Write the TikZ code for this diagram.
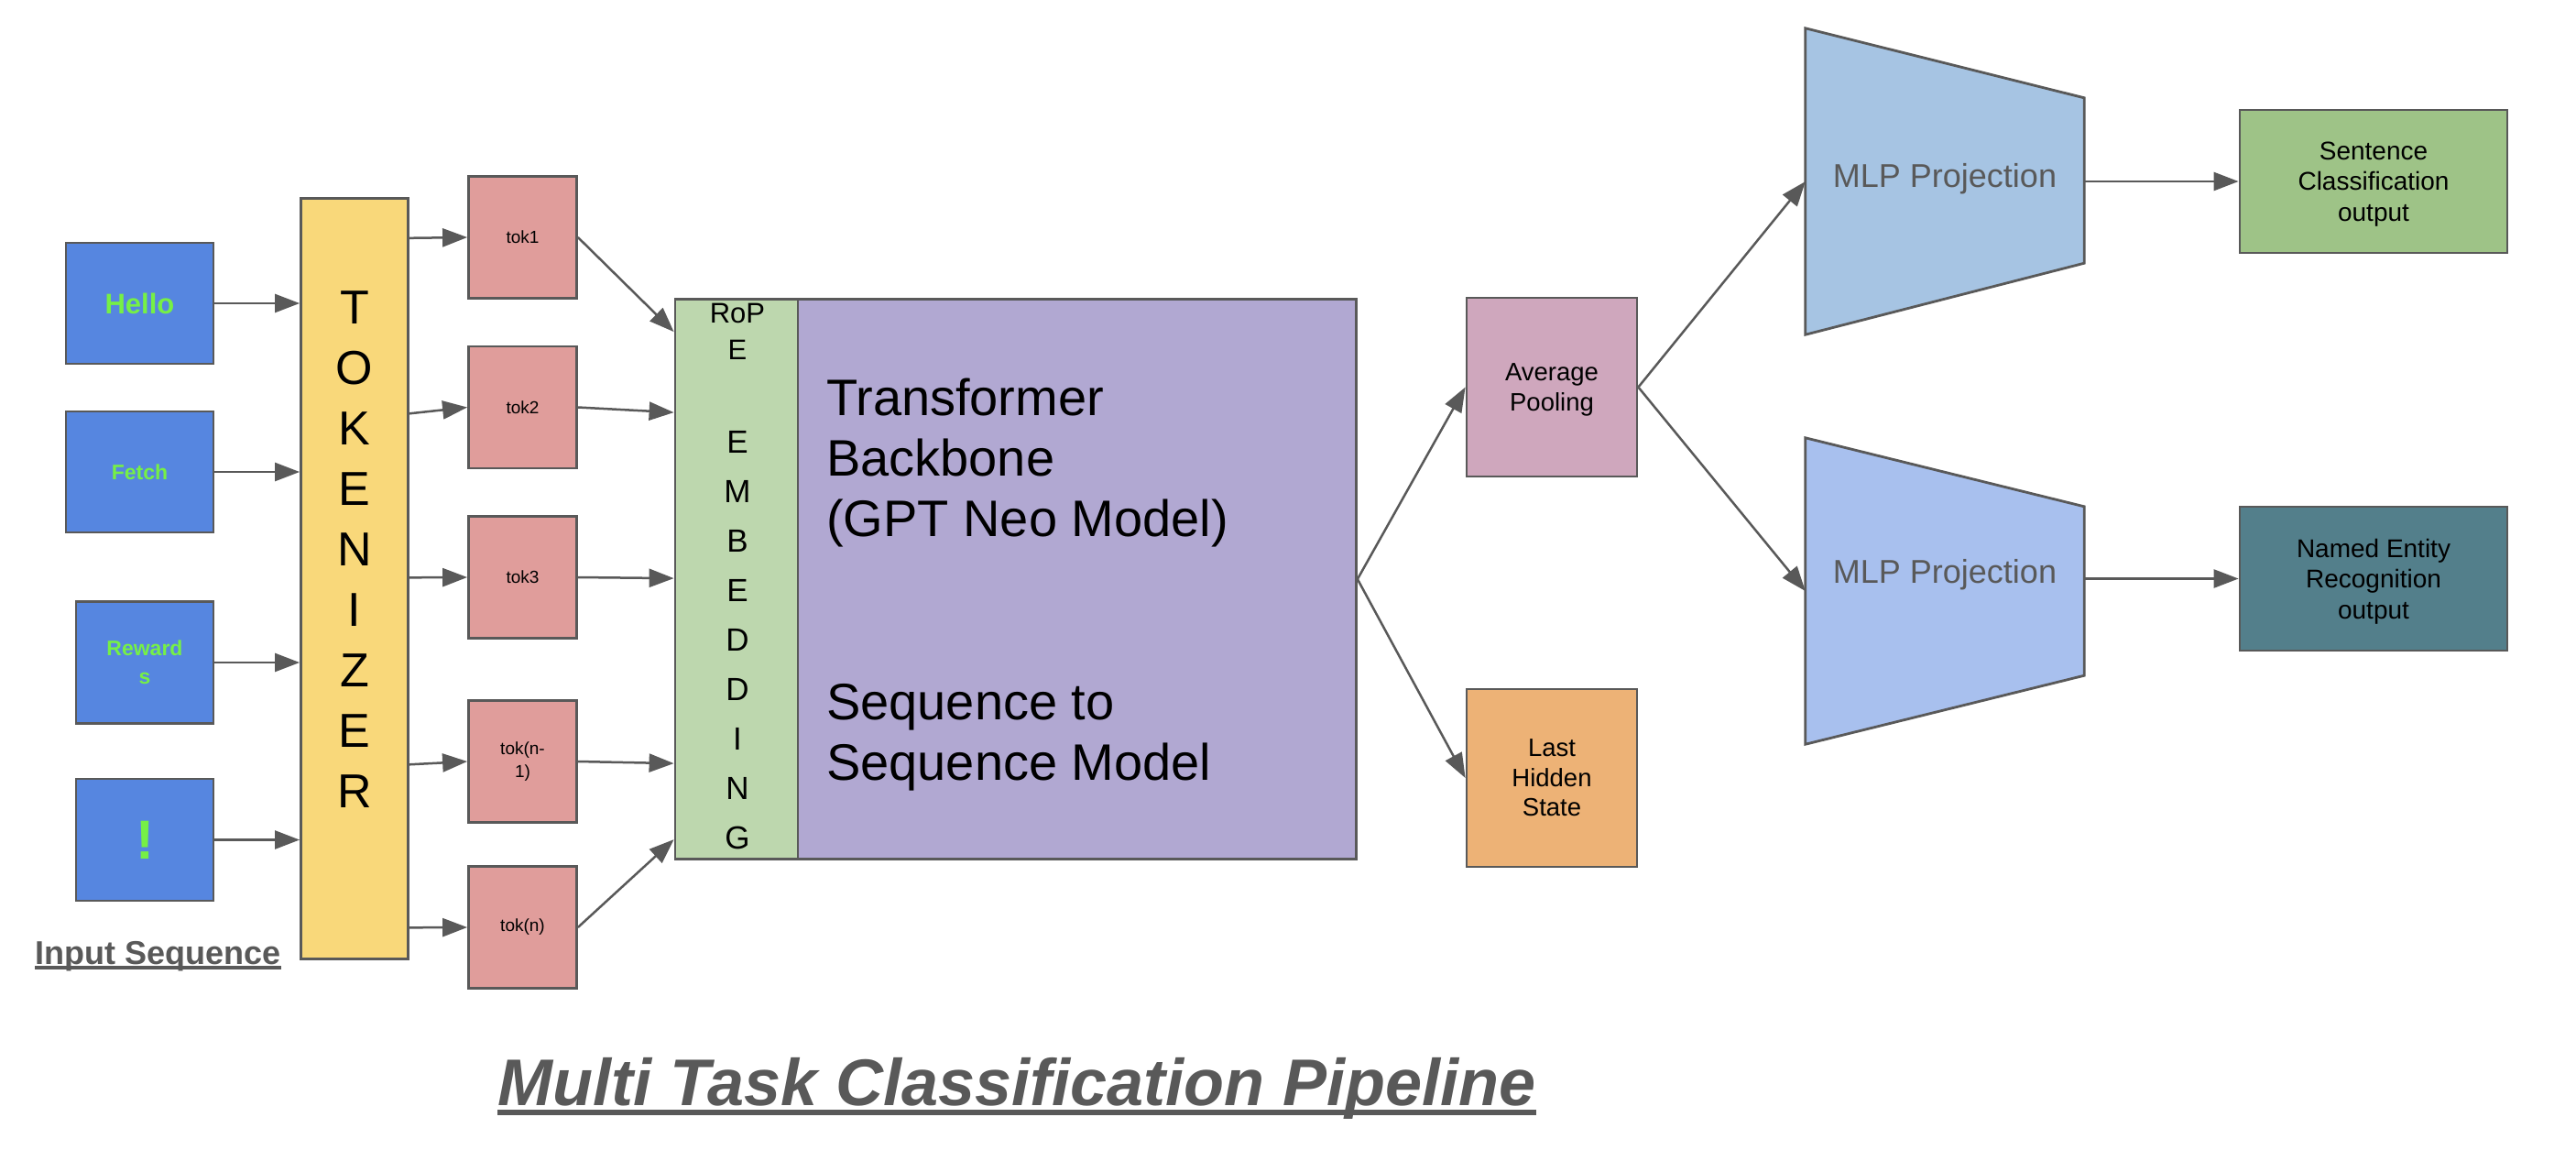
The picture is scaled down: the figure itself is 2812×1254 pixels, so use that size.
\documentclass[tikz,border=0pt]{standalone}
\usepackage{fontspec}
\setmainfont{Liberation Sans}
\usetikzlibrary{arrows.meta,calc,backgrounds}

\definecolor{edge}{HTML}{595959}
\definecolor{inblue}{HTML}{5686E0}
\definecolor{wordgreen}{HTML}{76F046}
\definecolor{tokyellow}{HTML}{F9D87A}
\definecolor{tokpink}{HTML}{E09D9B}
\definecolor{embgreen}{HTML}{BDD7AE}
\definecolor{transpurple}{HTML}{B1A8D2}
\definecolor{avgpink}{HTML}{CFA7BD}
\definecolor{lastorange}{HTML}{EDB276}
\definecolor{mlpblueA}{HTML}{A6C4E3}
\definecolor{mlpblueB}{HTML}{A8C0EE}
\definecolor{sentgreen}{HTML}{9EC387}
\definecolor{nerteal}{HTML}{537F8B}

\begin{document}
\begin{tikzpicture}[x=1pt,y=-1pt,
  box/.style={draw=edge, line width=2.8pt, inner sep=0pt, align=center},
  inbox/.style={box, fill=inblue, text=wordgreen, minimum height=132pt},
  tokbox/.style={box, fill=tokpink, minimum width=118pt, minimum height=133pt,
    font=\fontsize{19}{25}\selectfont},
  arr/.style={draw=edge, line width=2.5pt, -{Triangle[length=27pt,width=20pt]}},
  mlpshape/.style={draw=edge, line width=2.8pt, line join=miter},
  mlptext/.style={inner sep=0pt, text=edge, font=\fontsize{36}{43}\selectfont},
  plain/.style={inner sep=0pt, align=center},
]
% canvas
\begin{scope}[on background layer]
  \fill[white] (0,0) rectangle (2812,1254);
\end{scope}
\useasboundingbox (0,0) rectangle (2812,1254);

% input words
\node[inbox, minimum width=161pt, font={\bfseries\fontsize{31}{37}\selectfont}] (hello) at (152.5,331) {Hello};
\node[inbox, minimum width=161pt, font={\bfseries\fontsize{23}{30}\selectfont}] (fetch) at (152.5,515) {Fetch};
\node[inbox, minimum width=150pt, minimum height=133pt, font={\bfseries\fontsize{23}{30.5}\selectfont}] (rewards) at (158,723) {Reward\\s};
\node[inbox, minimum width=150pt, minimum height=133pt, font={\bfseries\fontsize{60}{70}\selectfont}] (excl) at (158,916.5) {!};

% tokenizer
\node[box, fill=tokyellow, minimum width=117pt, minimum height=830pt] (tokz) at (387,631.7) {};
\node[plain, font=\fontsize{52}{66}\selectfont] (tokztext) at (387,600) {T\\O\\K\\E\\N\\I\\Z\\E\\R};

% tokens
\node[tokbox] (tok1) at (570.5,259) {tok1};
\node[tokbox] (tok2) at (570.5,444.5) {tok2};
\node[tokbox] (tok3) at (570.5,630) {tok3};
\node[tokbox] (tokn1) at (570.5,831) {tok(n-\\1)};
\node[tokbox] (tokn) at (570.5,1012) {tok(n)};

% embedding + backbone
\node[box, fill=transpurple, minimum width=609.5pt, minimum height=611pt] (trans) at (1175.7,632) {};
\node[box, fill=embgreen, minimum width=134pt, minimum height=611pt] (emb) at (804,632) {};
\node[plain, font=\fontsize{31}{40}\selectfont] (ropetext) at (805,362) {RoP\\E};
\node[plain, font=\fontsize{35}{54}\selectfont] (embtext) at (805,699) {E\\M\\B\\E\\D\\D\\I\\N\\G};
\node[inner sep=0pt, align=left, anchor=west, font=\fontsize{56}{66}\selectfont] (transtext) at (902,505)
  {Transformer\\Backbone\\(GPT Neo Model)};
\node[inner sep=0pt, align=left, anchor=west, font=\fontsize{56}{66}\selectfont] (seqtext) at (902,805)
  {Sequence to\\Sequence Model};

% outputs of the backbone
\node[box, fill=avgpink, minimum width=186pt, minimum height=195pt, text depth=0pt, font=\fontsize{27.5}{32.5}\selectfont] (avg) at (1694,422.5) {Average\\Pooling};
\node[box, fill=lastorange, minimum width=186pt, minimum height=194pt, font=\fontsize{27.5}{32.5}\selectfont] (last) at (1694,849) {Last\\Hidden\\State};

% projection heads
\node[inner sep=0pt, minimum width=304pt, minimum height=334pt] (mlp1) at (2123,198) {};
\node[inner sep=0pt, minimum width=304pt, minimum height=334pt] (mlp2) at (2123,645) {};
\begin{scope}[on background layer]
  \filldraw[mlpshape, fill=mlpblueA] (mlp1.north west) -- ($(mlp1.north east)+(0,76)$)
    -- ($(mlp1.south east)+(0,-78)$) -- (mlp1.south west) -- cycle;
  \filldraw[mlpshape, fill=mlpblueB] (mlp2.north west) -- ($(mlp2.north east)+(0,75)$)
    -- ($(mlp2.south east)+(0,-75)$) -- (mlp2.south west) -- cycle;
\end{scope}
\node[mlptext] (mlp1text) at (2123,195) {MLP Projection};
\node[mlptext] (mlp2text) at (2123,627) {MLP Projection};

% task outputs
\node[box, fill=sentgreen, minimum width=292pt, minimum height=156pt, text depth=0pt, font=\fontsize{28}{33.5}\selectfont] (sent) at (2591,198) {Sentence\\Classification\\output};
\node[box, fill=nerteal, minimum width=292pt, minimum height=157pt, text depth=0pt, font=\fontsize{28}{33.5}\selectfont] (ner) at (2591,631.5) {Named Entity\\Recognition\\output};

% captions
\node[anchor=base, inner sep=0pt, text=edge, font={\bfseries\fontsize{36}{43}\selectfont}] (inseq) at (172.7,1052) {Input Sequence};
\draw[edge, line width=4pt] ($(inseq.base west)+(0,3.5)$) -- ($(inseq.base east)+(0,3.5)$);
\node[anchor=base, inner sep=0pt, text=edge, font={\bfseries\itshape\fontsize{72}{86}\selectfont}] (title) at (1110,1206) {Multi Task Classification Pipeline};
\draw[edge, line width=6pt] ($(title.base west)+(0,8)$) -- ($(title.base east)+(0,8)$);

% words into the tokenizer
\draw[arr] (hello.east) -- (hello.east -| tokz.west);
\draw[arr] (fetch.east) -- (fetch.east -| tokz.west);
\draw[arr] (rewards.east) -- (rewards.east -| tokz.west);
\draw[arr] (excl.east) -- (excl.east -| tokz.west);

% tokenizer to tokens
\draw[arr] ($(tokz.north east)+(0,44.5)$) -- (tok1.west);
\draw[arr] ($(tokz.north east)+(0,236)$) -- (tok2.west);
\draw[arr] ($(tokz.north east)+(0,415)$) -- (tok3.west);
\draw[arr] ($(tokz.north east)+(0,619)$) -- (tokn1.west);
\draw[arr] ($(tokz.north east)+(0,797)$) -- (tokn.west);

% tokens into the embedding
\draw[arr] (tok1.east) -- ($(emb.north west)+(0,37)$);
\draw[arr] (tok2.east) -- ($(emb.north west)+(0,125)$);
\draw[arr] (tok3.east) -- ($(emb.north west)+(0,306)$);
\draw[arr] (tokn1.east) -- ($(emb.north west)+(0,508)$);
\draw[arr] (tokn.east) -- ($(emb.north west)+(0,591)$);

% backbone outputs
\draw[arr] (trans.east) -- (avg.west);
\draw[arr] (trans.east) -- (last.west);
\draw[arr] (avg.east) -- (mlp1.west);
\draw[arr] (avg.east) -- (mlp2.west);
\draw[arr] (mlp1.east) -- (sent.west);
\draw[arr] (mlp2.east |- ner.west) -- (ner.west);
\end{tikzpicture}
\end{document}
